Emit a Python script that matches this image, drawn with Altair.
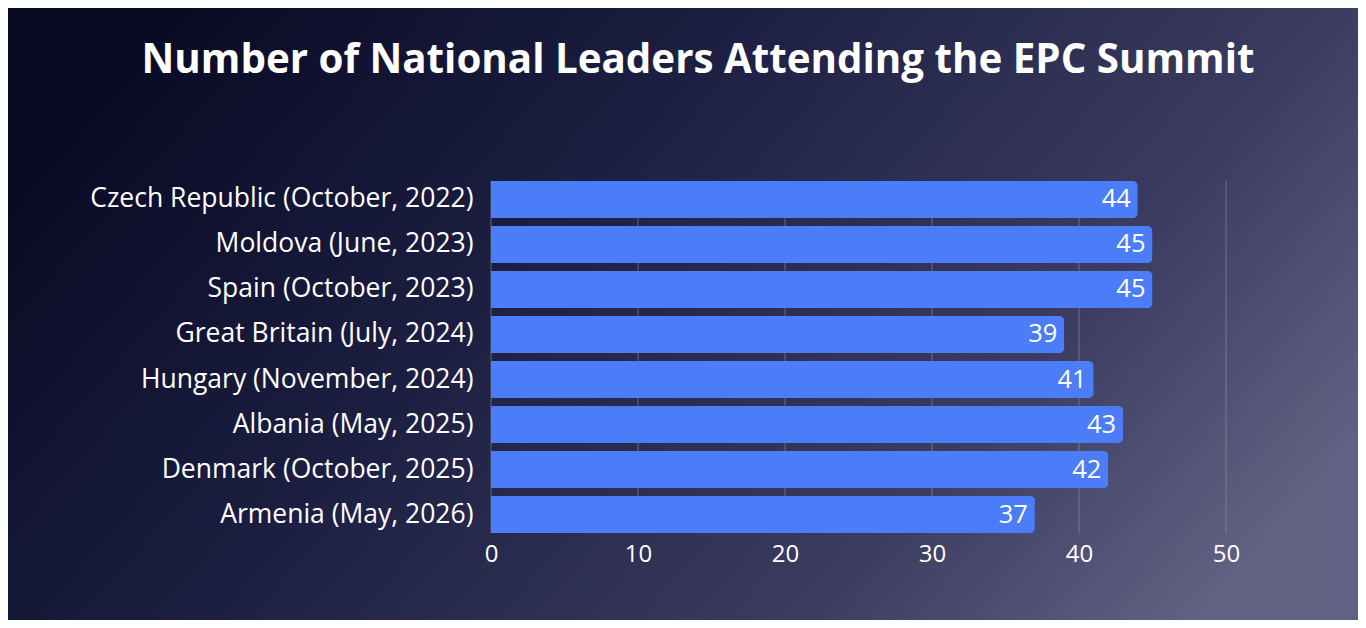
import altair as alt
import pandas as pd

# ---- data ----
summits = [
    "Czech Republic (October, 2022)",
    "Moldova (June, 2023)",
    "Spain (October, 2023)",
    "Great Britain (July, 2024)",
    "Hungary (November, 2024)",
    "Albania (May, 2025)",
    "Denmark (October, 2025)",
    "Armenia (May, 2026)",
]
leaders = [44, 45, 45, 39, 41, 43, 42, 37]
tick_values = [0, 10, 20, 30, 40, 50]
title_text = "Number of National Leaders Attending the EPC Summit"

# ---- layout ----
W, H = 735, 352          # plot area
LEFT, TOP = 483, 173     # plot offset inside the canvas
TOTAL_W, TOTAL_H = 1350, 612
FONT = "Open Sans"

df = pd.DataFrame({"summit": summits, "leaders": leaders})
grid_df = pd.DataFrame({"t": tick_values})
one_df = pd.DataFrame({"k": [0]})

x_scale = alt.Scale(domain=[0, 50], nice=False)
x_axis = alt.Axis(values=tick_values, title=None, grid=False, domain=False, ticks=False,
                  labelFont=FONT, labelFontSize=24, labelColor="white", labelPadding=9,
                  labelFlush=False, zindex=1)
y_enc = alt.Y("summit:N", sort=summits,
              scale=alt.Scale(paddingInner=0.18, paddingOuter=0),
              axis=alt.Axis(title=None, labelFont=FONT, labelFontSize=26.5, labelColor="white",
                            labelPadding=18, domain=False, ticks=False, grid=False, labelLimit=0,
                            zindex=1))

bg = alt.Chart(one_df).mark_rect(
    fill=alt.Gradient(
        gradient="linear", x1=0, y1=0.3, x2=1, y2=0.7,
        stops=[
            alt.GradientStop(color="#090a24", offset=0),
            alt.GradientStop(color="#1f2145", offset=0.4),
            alt.GradientStop(color="#3b3c60", offset=0.75),
            alt.GradientStop(color="#616184", offset=1),
        ],
    )
).encode(
    x=alt.value(-LEFT), x2=alt.value(TOTAL_W - LEFT),
    y=alt.value(-TOP), y2=alt.value(TOTAL_H - TOP),
)

title = alt.Chart(one_df).mark_text(
    text=title_text, font=FONT, fontSize=40.3, fontWeight="bold", color="white",
    align="center", baseline="alphabetic",
).encode(x=alt.value(690 - LEFT), y=alt.value(65 - TOP))

grid = alt.Chart(grid_df).mark_rule(color="#9a9ab4", strokeWidth=1, opacity=0.55).encode(
    x=alt.X("t:Q", scale=x_scale, axis=x_axis)
)

bars = alt.Chart(df).mark_bar(color="#4a7df7", cornerRadiusEnd=5).encode(
    x=alt.X("leaders:Q", scale=x_scale, axis=x_axis),
    y=y_enc,
)

labels = alt.Chart(df).mark_text(align="right", dx=-7, color="white", font=FONT, fontSize=25.5).encode(
    x=alt.X("leaders:Q", scale=x_scale, axis=x_axis),
    y=y_enc,
    text="leaders:Q",
)

chart = alt.layer(bg, title, grid, bars, labels).properties(
    width=W, height=H, padding=0, background="#1c1e3c",
).configure_view(stroke=None)

chart.save("out.html", embed_options={"renderer": "svg", "actions": False})
